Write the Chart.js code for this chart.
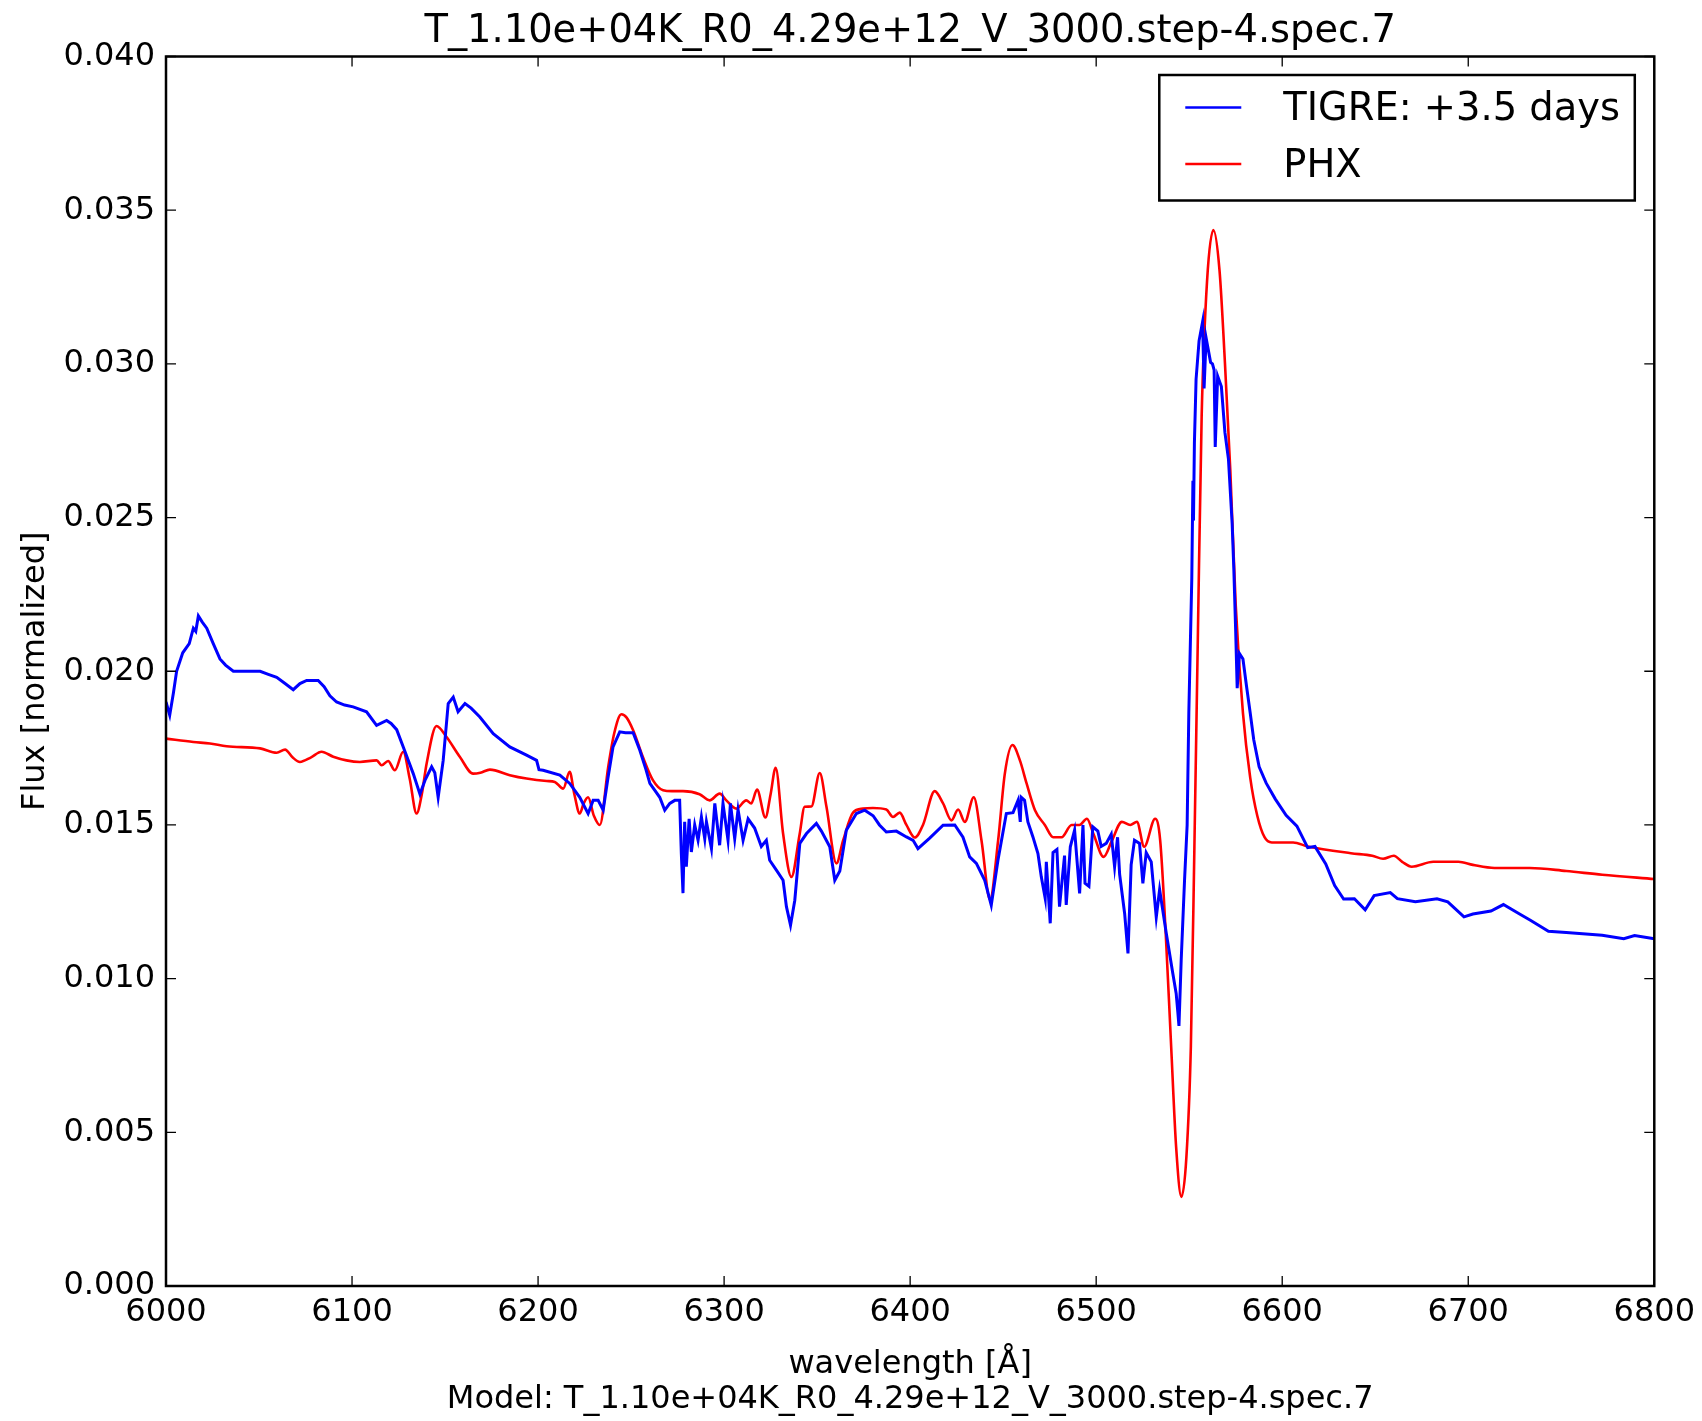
<!DOCTYPE html>
<html>
<head>
<meta charset="utf-8">
<title>TIGRE vs PHX spectrum</title>
<script src="https://cdn.jsdelivr.net/npm/chart.js@4.4.1/dist/chart.umd.min.js"></script>
<style>
  html, body { margin: 0; padding: 0; background: #fff; }
  #chart { display: block; }
</style>
</head>
<body>
<canvas id="chart" width="1702" height="1421"></canvas>
<script>
const modelName = 'T_1.10e+04K_R0_4.29e+12_V_3000.step-4.spec.7';
const xTicks = [6000, 6100, 6200, 6300, 6400, 6500, 6600, 6700, 6800];
const yTicks = [0, 0.005, 0.01, 0.015, 0.02, 0.025, 0.03, 0.035, 0.04];

// TIGRE: +3.5 days (observed, blue)
const tigreWave = [6000, 6002, 6004, 6005.7, 6009, 6012.5, 6014.7, 6016, 6017.4, 6019.5, 6021.9, 6025.4, 6029, 6032, 6036.2,
  6043.4, 6050.6, 6055, 6059.5, 6064, 6068.4, 6072, 6075.6, 6081.8, 6085, 6088.1, 6091.7, 6096, 6100.6, 6107.8,
  6113.2, 6118.6, 6121, 6124, 6128.4, 6132.9, 6136.5, 6139.2, 6142.8, 6144.5, 6146.3, 6149, 6151.7, 6154.4, 6157,
  6160.7, 6164, 6168.7, 6175.9, 6184.8, 6193.8, 6199.2, 6200.5, 6202.7, 6211.7, 6217, 6222.4, 6226.9, 6229.6, 6232.3,
  6235, 6237.5, 6240.3, 6243.9, 6247, 6251.1, 6254.7, 6258, 6260.1, 6265.4, 6268.1, 6270.8, 6273.5, 6276.1, 6277,
  6277.9, 6278.8, 6279.7, 6281.2, 6282.4, 6284.2, 6286, 6287.8, 6289.6, 6290.5, 6293.2, 6295, 6297.6, 6299.4, 6302.1,
  6303.4, 6305.7, 6307.5, 6310.2, 6312.9, 6316.4, 6320, 6322.7, 6324.5, 6328.1, 6331.7, 6333.5, 6335.7, 6338, 6340.7,
  6344.3, 6349.6, 6352.3, 6356.8, 6359.5, 6362.2, 6365.7, 6371.1, 6375.6, 6380.1, 6383.5, 6387.2, 6392.6, 6398, 6401.6,
  6404.2, 6410.5, 6417.7, 6424, 6428.4, 6432, 6435.6, 6440.1, 6443.6, 6447.2, 6451.7, 6455.3, 6458, 6459.2, 6459.7,
  6461.5, 6463.3, 6466, 6468.7, 6470.5, 6472.6, 6473.2, 6475.3, 6476.8, 6478.9, 6480.3, 6483, 6483.9, 6486.1, 6488.4,
  6491.1, 6492.9, 6494, 6496.1, 6498.2, 6500.9, 6502.7, 6505.4, 6508.1, 6509.9, 6511.5, 6512.6, 6515.3, 6517.1, 6518.8,
  6520.6, 6523.3, 6525.1, 6526.9, 6529.6, 6532.3, 6534.1, 6537.7, 6541.2, 6543, 6543.9, 6544.5, 6545.7, 6547.5, 6548.9,
  6549.8, 6551.4, 6552, 6552.3, 6552.8, 6553.7, 6555.3, 6557.2, 6558, 6559.1, 6561.5, 6562.5, 6563.4, 6564, 6565.3,
  6567.3, 6569.2, 6571.1, 6573.1, 6574, 6575, 6575.8, 6577, 6578.9, 6580.8, 6582.8, 6584.7, 6587.6, 6591.4, 6596.3,
  6602.1, 6607.9, 6613.7, 6617.6, 6623.4, 6628.2, 6633, 6638.8, 6644.6, 6649.4, 6658.1, 6661.9, 6671.6, 6683.2, 6689,
  6697.7, 6702.5, 6712.2, 6718.9, 6727.6, 6733.4, 6743.1, 6752.7, 6772, 6783.6, 6789.4, 6800];
const tigreFlux = [0.0190, 0.01857, 0.0193, 0.0200, 0.0206, 0.0209, 0.0214, 0.0213, 0.0218, 0.0216, 0.0214, 0.0209, 0.0204, 0.0202, 0.0200,
  0.0200, 0.0200, 0.0199, 0.0198, 0.0196, 0.0194, 0.0196, 0.0197, 0.0197, 0.0195, 0.0192, 0.0190, 0.0189, 0.01884, 0.01868,
  0.01824, 0.0184, 0.0183, 0.0181, 0.0174, 0.01667, 0.0160, 0.01645, 0.01689, 0.0167, 0.0159, 0.0171, 0.01895, 0.01916, 0.01868,
  0.01895, 0.0188, 0.01851, 0.01797, 0.01754, 0.01727, 0.0171, 0.0168, 0.01678, 0.01662, 0.01635, 0.0159, 0.01537, 0.0158, 0.0158,
  0.01548, 0.0165, 0.01754, 0.01803, 0.0180, 0.0180, 0.01743, 0.0168, 0.01635, 0.0159, 0.01548, 0.0157, 0.0158, 0.0158, 0.01408,
  0.01278, 0.0151, 0.01364, 0.0152, 0.01412, 0.0150, 0.0145, 0.01526, 0.01455, 0.0151, 0.01423, 0.0157, 0.01434, 0.0157, 0.0145,
  0.0157, 0.01455, 0.0155, 0.0145, 0.0152, 0.0149, 0.0143, 0.0145, 0.01385, 0.01353, 0.0132, 0.01234, 0.01174, 0.01255, 0.0144,
  0.01472, 0.01505, 0.0148, 0.01429, 0.0132, 0.0135, 0.01483, 0.01537, 0.01548, 0.0153, 0.0150, 0.01477, 0.0148, 0.01461, 0.0145,
  0.01423, 0.01457, 0.01499, 0.0150, 0.0146, 0.01396, 0.01375, 0.0132, 0.01239, 0.01385, 0.01537, 0.0154, 0.0158, 0.0151, 0.0159,
  0.0158, 0.0151, 0.01461, 0.01407, 0.01331, 0.01261, 0.0138, 0.0118, 0.0141, 0.0142, 0.01234, 0.0140, 0.0124, 0.01429, 0.01483,
  0.01277, 0.0150, 0.0131, 0.0130, 0.01494, 0.0148, 0.0143, 0.0144, 0.0147, 0.01364, 0.0146, 0.0134, 0.01212, 0.01082, 0.0137,
  0.0145, 0.0144, 0.0131, 0.0141, 0.0138, 0.0120, 0.0129, 0.01147, 0.01017, 0.00952, 0.0089, 0.00846, 0.0106, 0.0132, 0.0150,
  0.01864, 0.02303, 0.0262, 0.0249, 0.02742, 0.0295, 0.03075, 0.03137, 0.0292, 0.03084, 0.03005, 0.0300, 0.0298, 0.0273, 0.0296,
  0.02926, 0.02777, 0.0269, 0.02479, 0.0233, 0.02128, 0.01945, 0.02058, 0.0204, 0.01952, 0.01864, 0.01777, 0.01689, 0.01636, 0.01584,
  0.01531, 0.01496, 0.01426, 0.0143, 0.01373, 0.01303, 0.01259, 0.0126, 0.01224, 0.0127, 0.0128, 0.0126, 0.0125, 0.0126, 0.0125,
  0.01201, 0.0121, 0.0122, 0.01241, 0.0121, 0.0119, 0.01154, 0.0115, 0.01141, 0.0113, 0.0114, 0.0113];

// PHX model (red)
const phxWave = [6000, 6014.7, 6023.6, 6032.6, 6050.6, 6059.5, 6064, 6068, 6072, 6078, 6083.6, 6089.9, 6097, 6104.2, 6113.2,
  6115.9, 6119.4, 6123, 6127.5, 6131, 6134.7, 6137.5, 6140.1, 6145.4, 6150.8, 6158, 6165.1, 6169, 6174.1, 6184.8,
  6193.8, 6204.6, 6209, 6213.5, 6217, 6219.5, 6222.4, 6224.5, 6226.9, 6230, 6233.2, 6237.7, 6241, 6244.8, 6247.5,
  6251.1, 6256.4, 6261.8, 6267.2, 6272, 6277.9, 6286.8, 6292.2, 6297.6, 6301.2, 6306.6, 6311.9, 6314.6, 6317.7, 6322.2,
  6325, 6327.7, 6331.7, 6336.2, 6340.6, 6343.3, 6346.9, 6351.4, 6355, 6360.4, 6363.9, 6369.3, 6374.7, 6380, 6387.2,
  6390.8, 6394.4, 6398, 6402.5, 6406.9, 6413.2, 6417.7, 6422.2, 6425.8, 6429.4, 6434.2, 6438.4, 6442.9, 6447.3, 6450.9,
  6455, 6459, 6462.6, 6467.1, 6472.4, 6476.9, 6481.4, 6486.8, 6491, 6495, 6498.6, 6504, 6508.4, 6513.8, 6518.3,
  6521.9, 6525.8, 6531.7, 6534.4, 6537.4, 6540.3, 6543, 6545.8, 6548.5, 6550.9, 6552.8, 6554.7, 6556.7, 6559.6, 6563,
  6566.3, 6569.2, 6572.1, 6575, 6578.9, 6582.8, 6586.6, 6590.5, 6594.4, 6605.9, 6613.7, 6636.9, 6648.4, 6654.2, 6660,
  6664.5, 6669.6, 6681.2, 6694.7, 6702.5, 6714.1, 6733, 6752.7, 6772, 6800];
const phxFlux = [0.01781, 0.0177, 0.01765, 0.01756, 0.01749, 0.01735, 0.01745, 0.0172, 0.01705, 0.0172, 0.01738, 0.01722, 0.0171, 0.01705, 0.0171,
  0.01694, 0.01708, 0.01678, 0.01738, 0.0165, 0.01537, 0.0160, 0.0170, 0.01822, 0.01786, 0.01721, 0.01667, 0.0167, 0.0168, 0.01662,
  0.01651, 0.01643, 0.0164, 0.01618, 0.01673, 0.0160, 0.01537, 0.0157, 0.0159, 0.0153, 0.0150, 0.01689, 0.0180, 0.0186, 0.0185,
  0.01808, 0.0172, 0.01645, 0.01613, 0.0161, 0.0161, 0.0160, 0.0158, 0.01602, 0.0158, 0.01553, 0.0158, 0.0157, 0.01615, 0.01524,
  0.0160, 0.01686, 0.01472, 0.01331, 0.0147, 0.01559, 0.0156, 0.01669, 0.0156, 0.01375, 0.01448, 0.0154, 0.01553, 0.01555, 0.0155,
  0.01526, 0.0154, 0.0150, 0.01459, 0.0150, 0.0161, 0.0157, 0.01515, 0.0155, 0.0151, 0.0159, 0.01448, 0.01258, 0.0145, 0.01667,
  0.0176, 0.0171, 0.01635, 0.01548, 0.0150, 0.0146, 0.0146, 0.0150, 0.0150, 0.0152, 0.0147, 0.01396, 0.01448, 0.0151, 0.0150,
  0.0151, 0.01429, 0.0152, 0.0145, 0.01145, 0.0078, 0.0045, 0.0029, 0.0042, 0.0078, 0.0143, 0.02128, 0.0283, 0.03269, 0.03435,
  0.03304, 0.03005, 0.02654, 0.02216, 0.01864, 0.01654, 0.0153, 0.0146, 0.01443, 0.01443, 0.0143, 0.01408, 0.0140, 0.0139, 0.0140,
  0.0138, 0.01364, 0.0138, 0.0138, 0.0137, 0.0136, 0.0136, 0.0135, 0.01338, 0.01324];

const toPoints = (xs, ys) => xs.map((x, i) => ({ x: x, y: ys[i] }));

const FONT = 'DejaVu Sans';

// matplotlib style frame: title over the axes, inward ticks on all four sides, black box, legend box
const framePlugin = {
  id: 'frame',
  afterDraw(chart) {
    const c = chart.ctx;
    const a = chart.chartArea;
    const xs = chart.scales.x, ys = chart.scales.y;
    c.save();

    c.fillStyle = '#000';
    c.font = '38.4px "' + FONT + '"';
    c.textAlign = 'center';
    c.textBaseline = 'middle';
    c.fillText(modelName, (a.left + a.right) / 2, 32);

    c.strokeStyle = '#000';
    c.lineWidth = 1.3;
    c.beginPath();
    xTicks.forEach(v => {
      const px = xs.getPixelForValue(v);
      c.moveTo(px, a.bottom); c.lineTo(px, a.bottom - 10);
      c.moveTo(px, a.top); c.lineTo(px, a.top + 10);
    });
    yTicks.forEach(v => {
      const py = ys.getPixelForValue(v);
      c.moveTo(a.left, py); c.lineTo(a.left + 10, py);
      c.moveTo(a.right, py); c.lineTo(a.right - 10, py);
    });
    c.stroke();
    c.lineWidth = 2.5;
    c.strokeRect(a.left, a.top, a.right - a.left, a.bottom - a.top);

    // legend
    const lx = a.right - 19.5, ly = a.top + 18.5;
    const bw = 475.5, bh = 125.5;
    c.fillStyle = '#fff';
    c.fillRect(lx - bw, ly, bw, bh);
    c.lineWidth = 2.5;
    c.strokeRect(lx - bw, ly, bw, bh);
    c.textAlign = 'left';
    const rows = [107.5, 164];
    chart.data.datasets.forEach((ds, i) => {
      const y = rows[i];
      c.strokeStyle = ds.borderColor;
      c.lineWidth = 2.5;
      c.beginPath();
      c.moveTo(lx - bw + 26, y); c.lineTo(lx - bw + 82, y);
      c.stroke();
      c.fillStyle = '#000';
      c.fillText(ds.label, lx - bw + 124, y + 3);
    });
    c.restore();
  }
};

new Chart(document.getElementById('chart'), {
  type: 'line',
  data: {
    datasets: [
      {
        label: 'TIGRE: +3.5 days',
        data: toPoints(tigreWave, tigreFlux),
        borderColor: '#0000ff',
        borderWidth: 3,
        pointRadius: 0,
        tension: 0
      },
      {
        label: 'PHX',
        data: toPoints(phxWave, phxFlux),
        borderColor: '#ff0000',
        borderWidth: 2.6,
        pointRadius: 0,
        cubicInterpolationMode: 'monotone'
      }
    ]
  },
  options: {
    responsive: false,
    animation: false,
    devicePixelRatio: 1,
    layout: { padding: { left: 0, right: 46.5, top: 56.5, bottom: 0 } },
    plugins: {
      legend: { display: false },
      tooltip: { enabled: false },
      title: { display: false }
    },
    scales: {
      x: {
        type: 'linear',
        min: 6000,
        max: 6800,
        afterFit(scale) { scale.height = 135; },
        afterBuildTicks(scale) { scale.ticks = xTicks.map(v => ({ value: v })); },
        grid: { display: false, drawTicks: false },
        border: { display: false },
        ticks: {
          color: '#000',
          padding: 7,
          maxRotation: 0,
          font: { family: FONT, size: 32 },
          callback: v => String(v)
        },
        title: {
          display: true,
          text: ['wavelength [Å]', 'Model: ' + modelName],
          color: '#000',
          font: { family: FONT, size: 32, lineHeight: 35 / 32 },
          padding: { top: 0, bottom: 3.5 }
        }
      },
      y: {
        min: 0,
        max: 0.04,
        afterFit(scale) { scale.width = 166; },
        afterBuildTicks(scale) { scale.ticks = yTicks.map(v => ({ value: v })); },
        grid: { display: false, drawTicks: false },
        border: { display: false },
        ticks: {
          color: '#000',
          padding: 11,
          font: { family: FONT, size: 32 },
          callback: v => v.toFixed(3)
        },
        title: {
          display: true,
          text: 'Flux [normalized]',
          color: '#000',
          font: { family: FONT, size: 32 },
          padding: { top: 16, bottom: 0 }
        }
      }
    }
  },
  plugins: [framePlugin]
});
</script>
</body>
</html>
